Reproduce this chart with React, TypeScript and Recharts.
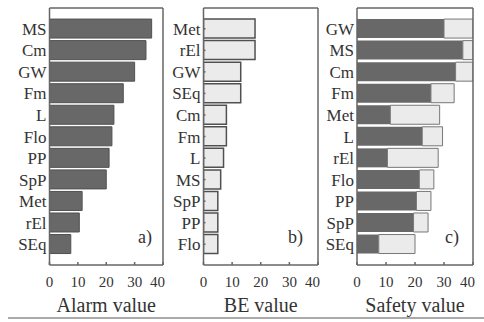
import { BarChart, Bar, XAxis, YAxis } from "recharts";

const alarmCats = ["MS", "Cm", "GW", "Fm", "L", "Flo", "PP", "SpP", "Met", "rEl", "SEq"];
const alarmVals = [36, 34, 30, 26, 22.7, 22, 21, 20, 11.5, 10.5, 7.5];

const beCats = ["Met", "rEl", "GW", "SEq", "Cm", "Fm", "L", "MS", "SpP", "PP", "Flo"];
const beVals = [18, 18, 13, 13, 8, 8, 7, 6, 5, 5, 5];

const safetyCats = ["GW", "MS", "Cm", "Fm", "Met", "L", "rEl", "Flo", "PP", "SpP", "SEq"];
const safetyAlarm = [30, 36.5, 34, 25.5, 11.5, 22.5, 10.5, 21.5, 20.5, 19.5, 7.5];
const safetyBE = [14, 6, 8, 8, 17, 7, 17.5, 5, 5, 5, 12.5];

const xTicks = [0, 10, 20, 30, 40];

const DARK = "#686868";
const LIGHT = "#ebebeb";
const EDGE = "#505050";
const TEXT = "#333";

const alarmData = alarmCats.map((name, i) => ({ name, alarm: alarmVals[i] }));
const beData = beCats.map((name, i) => ({ name, be: beVals[i] }));
const safetyData = safetyCats.map((name, i) => ({
  name,
  alarm: safetyAlarm[i],
  be: safetyBE[i],
}));

type PanelProps = {
  data: any[];
  title: string;
  tag: string;
  left: number;
  width: number;
  axisW: number;
  tagX: number;
  children: any;
};

function Panel({ data, title, tag, left, width, axisW, tagX, children }: PanelProps) {
  return (
    <div style={{ position: "absolute", left, top: 0 }}>
      <BarChart
        width={width}
        height={322}
        data={data}
        layout="vertical"
        margin={{ top: 8, right: 2, bottom: 0, left: 0 }}
        barCategoryGap="5%"
      >
        <XAxis
          type="number"
          domain={[0, 40]}
          ticks={xTicks}
          allowDataOverflow
          tickSize={-3}
          tickMargin={14}
          height={57}
          stroke="#666"
          strokeWidth={1.5}
          tick={{ fill: TEXT, fontSize: 15 }}
          label={{ value: title, position: "insideBottom", offset: 10, fontSize: 20, fill: TEXT }}
        />
        <XAxis
          xAxisId="top"
          orientation="top"
          mirror
          type="number"
          domain={[0, 40]}
          ticks={xTicks}
          allowDataOverflow
          tick={false}
          tickSize={3}
          height={1}
          stroke="#666"
          strokeWidth={1.5}
        />
        <YAxis
          type="category"
          dataKey="name"
          width={axisW}
          interval={0}
          tickSize={-2}
          tickMargin={5}
          padding={{ top: 10, bottom: 10 }}
          stroke="#666"
          strokeWidth={1.5}
          tick={{ fill: TEXT, fontSize: 17 }}
        />
        <YAxis
          yAxisId="right"
          orientation="right"
          type="category"
          dataKey="name"
          mirror
          width={1}
          interval={0}
          tick={false}
          tickSize={2}
          padding={{ top: 10, bottom: 10 }}
          stroke="#666"
          strokeWidth={1.5}
        />
        {children}
      </BarChart>
      <div
        style={{
          position: "absolute",
          left: tagX,
          top: 226,
          fontSize: 18,
          lineHeight: "22px",
          color: TEXT,
        }}
      >
        {tag}
      </div>
    </div>
  );
}

export default function App() {
  return (
    <div
      style={{
        position: "absolute",
        left: 0,
        top: 0,
        width: 484,
        height: 322,
        background: "#fff",
        fontFamily: '"Liberation Serif", "Times New Roman", serif',
      }}
    >
      <Panel data={alarmData} title="Alarm value" tag="a)" left={0} width={165} axisW={49.5} tagX={138}>
        <Bar dataKey="alarm" fill={DARK} stroke={EDGE} strokeWidth={1} isAnimationActive={false} />
      </Panel>
      <Panel data={beData} title="BE value" tag="b)" left={160} width={160} axisW={43.5} tagX={128}>
        <Bar dataKey="be" fill={LIGHT} stroke={EDGE} strokeWidth={1.5} isAnimationActive={false} />
      </Panel>
      <Panel data={safetyData} title="Safety value" tag="c)" left={315} width={160} axisW={42} tagX={130}>
        <Bar dataKey="alarm" stackId="s" fill={DARK} isAnimationActive={false} />
        <Bar dataKey="be" stackId="s" fill={LIGHT} stroke="#777" strokeWidth={1} isAnimationActive={false} />
      </Panel>
      <div
        style={{
          position: "absolute",
          left: 8,
          top: 317,
          width: 476,
          height: 2,
          background: "#aaa",
        }}
      />
    </div>
  );
}
